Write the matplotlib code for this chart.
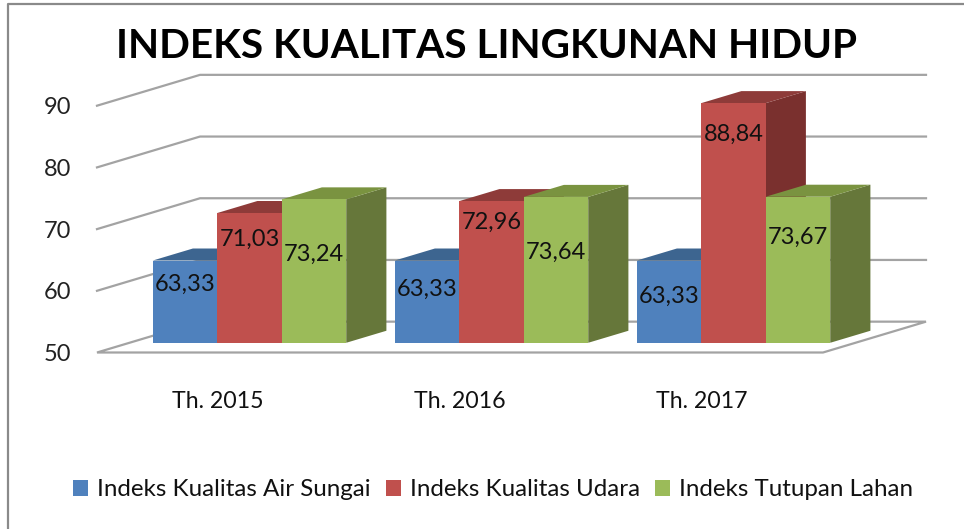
"""
Indeks Kualitas Lingkungan Hidup, 3D-looking clustered bars.
"""

import matplotlib
matplotlib.use("Agg")
import matplotlib.pyplot as plt
from matplotlib.lines import Line2D
from matplotlib.patches import Patch, Polygon

plt.rcParams["font.family"] = ["Lato", "DejaVu Sans"]

years = ["Th. 2015", "Th. 2016", "Th. 2017"]
series_names = ["Indeks Kualitas Air Sungai", "Indeks Kualitas Udara", "Indeks Tutupan Lahan"]
air_sungai = [63.33, 63.33, 63.33]
udara = [71.03, 72.96, 88.84]
tutupan_lahan = [73.24, 73.64, 73.67]
value_ticks = [50, 60, 70, 80, 90]

# front, top, side shades for each series
FRONT = ["#4F81BD", "#C0504D", "#9BBB59"]
TOP = ["#3D6590", "#8E3B39", "#7A9340"]
SIDE = ["#335580", "#7A302E", "#66773A"]
GRID = "#A3A3A3"

W, H = 964, 529
DEPTH_X = 103 / 242  # full floor depth, in category units
DEPTH_Y = 5.0        # full floor depth, in value units
BAR_FRONT = 0.315    # depth where the bars start
BAR_BACK = 0.705     # depth where the bars end
BAR_W = 64.5 / 242

# how far below the bar top each label sits, in pixels (series by year)
LABEL_DROP = [[24, 29, 36], [26, 21, 31], [55, 55, 41]]


def project(x, value, depth):
    return x + depth * DEPTH_X, value + depth * DEPTH_Y


def draw_bar(ax, left, value, idx, zorder):
    right = left + BAR_W
    a = project(left, 50, BAR_FRONT)
    b = project(right, 50, BAR_FRONT)
    c = project(right, value, BAR_FRONT)
    d = project(left, value, BAR_FRONT)
    e = project(right, value, BAR_BACK)
    f = project(left, value, BAR_BACK)
    g = project(right, 50, BAR_BACK)
    ax.add_patch(Polygon([b, g, e, c], fc=SIDE[idx], ec="none", zorder=zorder, clip_on=False))
    ax.add_patch(Polygon([d, c, e, f], fc=TOP[idx], ec="none", zorder=zorder, clip_on=False))
    ax.add_patch(Polygon([a, b, c, d], fc=FRONT[idx], ec="none", zorder=zorder, clip_on=False))


def main():
    fig = plt.figure(figsize=(W / 100, H / 100), dpi=100, facecolor="white")
    # axes box is the front plane of the chart
    ax = fig.add_axes([97 / W, 1 - 352.5 / H, 726 / W, 246.8 / H])
    ax.set_xlim(-0.5, 2.5)
    ax.set_ylim(50, 90)
    ax.patch.set_visible(False)
    for spine in ax.spines.values():
        spine.set_visible(False)

    ax.set_yticks(value_ticks)
    ax.set_xticks(range(len(years)))
    ax.set_xticklabels(years)
    ax.tick_params(axis="y", length=0, pad=18.5, labelsize=17, labelcolor="#222222")
    ax.tick_params(axis="x", length=0, pad=27.5, labelsize=16.7, labelcolor="#111111")

    # walls and floor
    for tick in value_ticks[1:]:
        back_left = project(-0.5, tick, 1)
        back_right = project(2.5, tick, 1)
        ax.plot([-0.5, back_left[0], back_right[0]], [tick, back_left[1], back_right[1]],
                color=GRID, lw=1.6, clip_on=False, zorder=1)
    floor = [project(-0.5, 50, 0), project(2.5, 50, 0), project(2.5, 50, 1), project(-0.5, 50, 1)]
    ax.add_patch(Polygon(floor, fc="white", ec=GRID, lw=1.6, clip_on=False, zorder=1))

    # bars, left to right so that each one covers the side of the previous
    all_series = [air_sungai, udara, tutupan_lahan]
    for i in range(len(years)):
        for s, values in enumerate(all_series):
            left = i + (s - 1) * BAR_W - BAR_W / 2 - 0.004
            draw_bar(ax, left, values[i], s, 3 + i)
            x, y = project(left + BAR_W / 2, values[i], BAR_FRONT)
            ax.annotate(f"{values[i]:.2f}".replace(".", ","), (x, y),
                        xytext=(0, -LABEL_DROP[s][i] * 0.72), textcoords="offset points",
                        ha="center", va="center", fontsize=17, color="#111111", zorder=10,
                        annotation_clip=False)

    fig.text(487 / W, 1 - 47 / H, "INDEKS KUALITAS LINGKUNAN HIDUP", ha="center", va="center",
             fontsize=29.2, fontweight="bold", color="black")

    handles = [Patch(fc=c, ec="none") for c in FRONT]
    fig.legend(handles, series_names, loc="center", bbox_to_anchor=(493 / W, 1 - 490 / H),
               ncol=3, frameon=False, fontsize=17.4, handlelength=0.62, handleheight=0.62,
               handletextpad=0.37, columnspacing=0.62, labelcolor="#111111",
               borderpad=0, borderaxespad=0)

    # chart border, only left and top survive in the picture
    fig.add_artist(Line2D([8 / W, 8 / W, 1], [0, 1 - 4 / H, 1 - 4 / H], color="#8A8A8A", lw=1.6))

    fig.savefig("out.png", dpi=100)
    plt.close(fig)


if __name__ == "__main__":
    main()
